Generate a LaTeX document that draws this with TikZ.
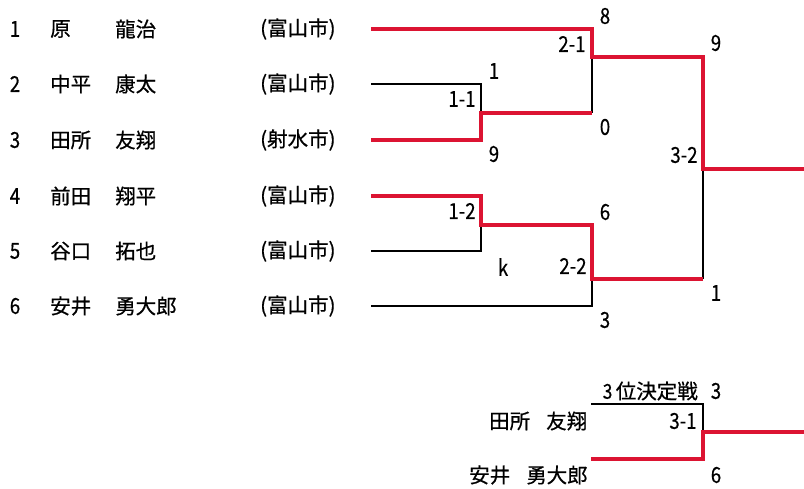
\documentclass[tikz,border=0pt]{standalone}
\usepackage{fontspec}
\setmainfont{Noto Sans CJK JP}[FakeBold=0.6]
\newfontfamily\numfont{Noto Sans CJK JP}[FakeStretch=0.85,FakeBold=0.4]
\definecolor{wred}{RGB}{220,20,50}
\begin{document}
\begin{tikzpicture}[x=1pt,y=-1pt,
  txt/.style={inner sep=0pt, font=\fontsize{20.5}{20.5}\selectfont},
  num/.style={inner sep=0pt, font=\numfont\fontsize{22}{22}\selectfont},
  win/.style={draw=wred, line width=3.8pt, line join=miter, line cap=butt},
  lose/.style={draw=black, line width=1.3pt, line join=miter}]
\useasboundingbox (0,0) rectangle (804,489);
% ---------- player list ----------
\foreach \i/\y/\fam/\giv/\city in {1/29/原/龍治/(富山市), 2/84/中平/康太/(富山市), 3/140/田所/友翔/(射水市), 4/196/前田/翔平/(富山市), 5/251/谷口/拓也/(富山市), 6/306/安井/勇大郎/(富山市)}{
  \node[num] (no\i) at (15,\y) {\i};
  \node[txt,anchor=west] (fam\i) at (50,\y) {\fam};
  \node[txt,anchor=west] (giv\i) at (115,\y) {\giv};
  \node[txt,anchor=west] (city\i) at (260,\y) {\city};
}
% ---------- bracket coordinates ----------
\coordinate (p1) at (371,29);
\coordinate (p2) at (371,84);
\coordinate (p3) at (371,140);
\coordinate (p4) at (371,196);
\coordinate (p5) at (371,251);
\coordinate (p6) at (371,306);
\coordinate (a2) at (481,84);
\coordinate (a3) at (481,140);
\coordinate (aw) at (481,113);
\coordinate (b4) at (481,196);
\coordinate (b5) at (481,251);
\coordinate (bw) at (481,225);
\coordinate (c1) at (592,29);
\coordinate (cA) at (592,113);
\coordinate (cw) at (592,57);
\coordinate (dB) at (592,225);
\coordinate (d6) at (592,306);
\coordinate (dw) at (592,279);
\coordinate (eC) at (703,57);
\coordinate (eD) at (703,279);
\coordinate (ew) at (703,169);
\coordinate (fin) at (804,169);
% losers (black)
\draw[lose] (p2) -- (a2) -- (aw);
\draw[lose] (cA) -- (cw);
\draw[lose] (p5) -- (b5) -- (bw);
\draw[lose] (p6) -- (d6) -- (dw);
\draw[lose] (ew) -- (eD);
% winners (red)
\draw[win] (p3) -- (a3) -- (aw) -- (cA);
\draw[win] (p1) -- (c1) -- (cw) -- (eC) -- (ew) -- (fin);
\draw[win] (p4) -- (b4) -- (bw) -- (dB) -- (dw) -- (eD);
% ---------- scores ----------
\node[num] (s8) at (605,16) {8};
\node[num] (m21) at (572,44) {2-1};
\node[num] (s1a) at (494,71) {1};
\node[num] (m11) at (462,99) {1-1};
\node[num] (s0) at (605,127) {0};
\node[num] (s9a) at (494,154) {9};
\node[num] (s9b) at (716,43) {9};
\node[num] (m32) at (684,155) {3-2};
\node[num] (s6a) at (605,212) {6};
\node[num] (m12) at (462,211) {1-2};
\node[num] (sk) at (503,267) {k};
\node[num] (m22) at (573,266) {2-2};
\node[num] (s1b) at (716,293) {1};
\node[num] (s3a) at (605,320) {3};
% ---------- third place ----------
\node[txt,anchor=east] (third) at (698,391) {\numfont 3\,\rmfamily 位決定戦};
\node[num] (s3b) at (716,391) {3};
\node[txt,anchor=west] (tf1) at (489,421) {田所};
\node[txt,anchor=west] (tg1) at (546,421) {友翔};
\node[txt,anchor=west] (tf2) at (469,475) {安井};
\node[txt,anchor=west] (tg2) at (526,475) {勇大郎};
\node[num] (m31) at (683,421) {3-1};
\node[num] (s6b) at (716,475) {6};
\coordinate (q1) at (591,404);
\coordinate (q1e) at (703,404);
\coordinate (q2) at (591,459);
\coordinate (q2e) at (703,459);
\coordinate (qw) at (703,432);
\coordinate (qfin) at (804,432);
\draw[lose] (q1) -- (q1e) -- (qw);
\draw[win] (q2) -- (q2e) -- (qw) -- (qfin);
\end{tikzpicture}
\end{document}
